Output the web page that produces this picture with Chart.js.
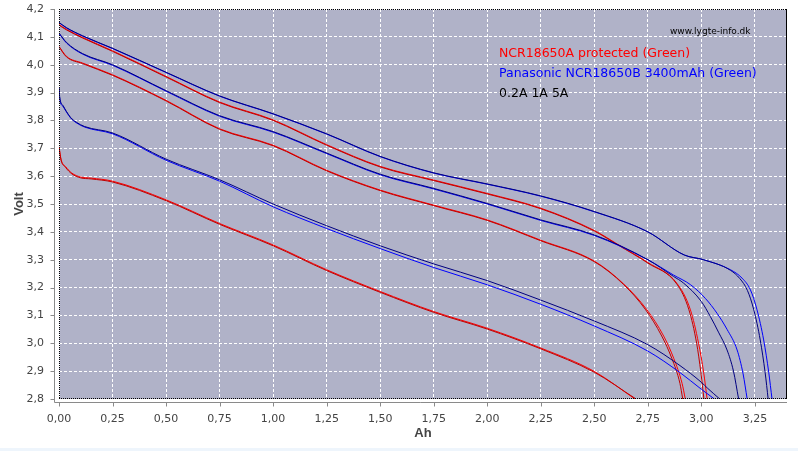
<!DOCTYPE html>
<html>
<head>
<meta charset="utf-8">
<script src="https://cdn.jsdelivr.net/npm/chart.js@4"></script>
<style>
html, body { margin: 0; padding: 0; background: #eef5fc; }
#wrap { width: 798px; height: 448px; background: #fff; }
</style>
</head>
<body>
<div id="wrap"><canvas id="chart" width="798" height="448"></canvas></div>
<script>
// discharge curves, [Ah, Volt]; each current was measured twice
const blue02a = [[0,4.152],[0.035,4.133],[0.11,4.104],[0.25,4.059],[0.5,3.973],[0.75,3.888],[1.0,3.824],[1.25,3.752],[1.5,3.671],[1.75,3.612],[2.0,3.572],[2.25,3.529],[2.5,3.473],[2.75,3.40],[2.92,3.317],[3.01,3.30],[3.136,3.262],[3.18,3.232],[3.215,3.19],[3.245,3.12],[3.275,3.012],[3.298,2.894],[3.312,2.8]];
const blue02b = [[0,4.151],[0.035,4.132],[0.11,4.103],[0.25,4.058],[0.5,3.972],[0.75,3.887],[1.0,3.823],[1.25,3.751],[1.5,3.67],[1.75,3.611],[2.0,3.571],[2.25,3.528],[2.5,3.472],[2.75,3.40],[2.92,3.317],[3.01,3.30],[3.136,3.264],[3.19,3.234],[3.229,3.192],[3.26,3.12],[3.291,3.012],[3.315,2.894],[3.33,2.8]];

const blue1a = [[0,4.114],[0.035,4.08],[0.11,4.04],[0.25,4.0],[0.5,3.907],[0.75,3.817],[1.0,3.76],[1.25,3.683],[1.5,3.607],[1.75,3.556],[2.0,3.502],[2.25,3.443],[2.5,3.389],[2.75,3.30],[2.87,3.24],[2.917,3.216],[3.0,3.15],[3.042,3.096],[3.08,3.04],[3.12,2.976],[3.15,2.9],[3.174,2.8]];
const blue1b = [[0,4.112],[0.035,4.078],[0.11,4.038],[0.25,3.998],[0.5,3.905],[0.75,3.815],[1.0,3.758],[1.25,3.681],[1.5,3.605],[1.75,3.554],[2.0,3.5],[2.25,3.441],[2.5,3.387],[2.75,3.30],[2.87,3.245],[2.95,3.21],[3.02,3.16],[3.073,3.108],[3.12,3.05],[3.167,2.976],[3.195,2.89],[3.214,2.8]];

const blue5a = [[0,3.92],[0.003,3.886],[0.02,3.852],[0.035,3.832],[0.055,3.81],[0.08,3.794],[0.12,3.778],[0.25,3.755],[0.5,3.661],[0.75,3.587],[1.0,3.50],[1.25,3.422],[1.5,3.35],[1.75,3.285],[2.0,3.225],[2.25,3.155],[2.5,3.08],[2.75,2.995],[2.9,2.92],[3.0,2.86],[3.03,2.838],[3.086,2.8]];
const blue5b = [[0,3.915],[0.003,3.88],[0.02,3.849],[0.035,3.83],[0.055,3.808],[0.08,3.792],[0.12,3.776],[0.25,3.752],[0.5,3.657],[0.75,3.582],[1.0,3.49],[1.25,3.412],[1.5,3.34],[1.75,3.272],[2.0,3.21],[2.25,3.14],[2.5,3.062],[2.75,2.972],[2.9,2.895],[3.0,2.835],[3.061,2.8]];

const red02a = [[0,4.144],[0.035,4.127],[0.11,4.098],[0.25,4.05],[0.5,3.958],[0.75,3.866],[1.0,3.802],[1.25,3.713],[1.5,3.635],[1.75,3.586],[2.0,3.538],[2.25,3.485],[2.5,3.405],[2.61,3.355],[2.75,3.29],[2.886,3.215],[2.949,3.12],[2.987,3.0],[3.011,2.894],[3.027,2.8]];
const red02b = [[0,4.142],[0.035,4.125],[0.11,4.096],[0.25,4.048],[0.5,3.956],[0.75,3.864],[1.0,3.8],[1.25,3.711],[1.5,3.633],[1.75,3.584],[2.0,3.536],[2.25,3.483],[2.5,3.403],[2.61,3.353],[2.75,3.288],[2.886,3.212],[2.942,3.12],[2.978,3.0],[2.998,2.894],[3.012,2.8]];

const red1a = [[0,4.066],[0.035,4.03],[0.11,4.006],[0.25,3.964],[0.5,3.872],[0.75,3.77],[1.0,3.711],[1.25,3.621],[1.5,3.55],[1.75,3.496],[2.0,3.443],[2.25,3.37],[2.5,3.295],[2.637,3.213],[2.746,3.12],[2.824,3.026],[2.871,2.946],[2.91,2.856],[2.925,2.8]];
const red1b = [[0,4.064],[0.035,4.028],[0.11,4.004],[0.25,3.962],[0.5,3.87],[0.75,3.768],[1.0,3.709],[1.25,3.619],[1.5,3.548],[1.75,3.494],[2.0,3.441],[2.25,3.368],[2.5,3.293],[2.637,3.211],[2.74,3.12],[2.815,3.026],[2.862,2.946],[2.9,2.856],[2.913,2.8]];

const red5a = [[0,3.706],[0.01,3.659],[0.03,3.635],[0.06,3.611],[0.1,3.597],[0.15,3.593],[0.25,3.582],[0.5,3.515],[0.75,3.43],[1.0,3.353],[1.25,3.264],[1.5,3.186],[1.75,3.114],[2.0,3.054],[2.25,2.983],[2.5,2.899],[2.69,2.8]];
const red5b = [[0,3.703],[0.01,3.656],[0.03,3.632],[0.06,3.608],[0.1,3.594],[0.15,3.59],[0.25,3.579],[0.5,3.512],[0.75,3.427],[1.0,3.35],[1.25,3.261],[1.5,3.183],[1.75,3.111],[2.0,3.051],[2.25,2.98],[2.5,2.896],[2.695,2.8]];

const xTicks = [0, 0.25, 0.5, 0.75, 1, 1.25, 1.5, 1.75, 2, 2.25, 2.5, 2.75, 3, 3.25];
const yTicks = [2.8, 2.9, 3.0, 3.1, 3.2, 3.3, 3.4, 3.5, 3.6, 3.7, 3.8, 3.9, 4.0, 4.1, 4.2];

const noteLines = ['NCR18650A protected (Green)', 'Panasonic NCR18650B 3400mAh (Green)', '0.2A 1A 5A'];
const noteColors = ['#ff0000', '#0000ff', '#000000'];
const siteLabel = 'www.lygte-info.dk';

function makeLine(points, color) {
    return {
        data: points.map(p => ({ x: p[0], y: p[1] })),
        borderColor: color,
        borderWidth: 1,
        pointRadius: 0,
        showLine: true,
        fill: false,
        cubicInterpolationMode: 'monotone'
    };
}

function comma(v, digits) {
    return Number(v).toFixed(digits).replace('.', ',');
}

// plot background, frame, offset axes and the text block
const plotDecor = {
    id: 'plotDecor',
    beforeDraw(chart) {
        const { ctx, chartArea: a } = chart;
        ctx.save();
        ctx.fillStyle = '#b0b2c8';
        ctx.fillRect(a.left, a.top, a.right - a.left, a.bottom - a.top);
        ctx.restore();
    },
    afterDraw(chart) {
        const { ctx, chartArea: a, scales } = chart;
        ctx.save();
        ctx.lineWidth = 1;
        ctx.strokeStyle = '#000';
        ctx.setLineDash([1, 1]);
        ctx.beginPath();
        ctx.moveTo(a.left, a.top + 0.5); ctx.lineTo(a.right, a.top + 0.5);
        ctx.moveTo(a.left + 0.5, a.top); ctx.lineTo(a.left + 0.5, a.bottom);
        ctx.moveTo(a.left, a.bottom - 0.5); ctx.lineTo(a.right, a.bottom - 0.5);
        ctx.stroke();
        ctx.setLineDash([]);
        ctx.beginPath();
        ctx.moveTo(a.right - 0.5, a.top); ctx.lineTo(a.right - 0.5, a.bottom);
        ctx.stroke();

        const ax = a.left - 4.5;
        const ay = a.bottom + 3.5;
        ctx.strokeStyle = '#8a8a8a';
        ctx.beginPath();
        ctx.moveTo(ax, a.top); ctx.lineTo(ax, ay);
        ctx.lineTo(a.right, ay);
        scales.y.ticks.forEach(t => {
            const p = Math.round(scales.y.getPixelForValue(t.value)) + 0.5;
            ctx.moveTo(ax - 4, p); ctx.lineTo(ax, p);
        });
        scales.x.ticks.forEach(t => {
            const p = Math.round(scales.x.getPixelForValue(t.value)) + 0.5;
            ctx.moveTo(p, ay); ctx.lineTo(p, ay + 4);
        });
        ctx.stroke();

        ctx.textAlign = 'left';
        ctx.textBaseline = 'alphabetic';
        ctx.font = '9px "DejaVu Sans"';
        ctx.fillStyle = '#000';
        ctx.fillText(siteLabel, 670, 34);
        ctx.font = '12.5px "DejaVu Sans"';
        noteLines.forEach((txt, i) => {
            ctx.fillStyle = noteColors[i];
            ctx.fillText(txt, 499, 57 + i * 20);
        });
        ctx.restore();
    }
};

window.onload = () => {
    const ctx = document.getElementById('chart').getContext('2d');
    new Chart(ctx, {
        type: 'scatter',
        data: {
            datasets: [
                makeLine(blue02a, '#000080'), makeLine(blue02b, '#0000ff'),
                makeLine(blue1a, '#000080'), makeLine(blue1b, '#0000ff'),
                makeLine(blue5a, '#000080'), makeLine(blue5b, '#0000ff'),
                makeLine(red02b, '#c00000'), makeLine(red02a, '#ff0000'),
                makeLine(red1b, '#c00000'), makeLine(red1a, '#ff0000'),
                makeLine(red5b, '#c00000'), makeLine(red5a, '#ff0000')
            ]
        },
        options: {
            responsive: false,
            animation: false,
            layout: { padding: { top: 9, right: 11, left: 0, bottom: 0 } },
            plugins: {
                legend: { display: false },
                tooltip: { enabled: false }
            },
            scales: {
                x: {
                    type: 'linear',
                    min: 0,
                    max: 3.4,
                    afterBuildTicks: s => { s.ticks = xTicks.map(v => ({ value: v })); },
                    afterFit: s => { s.height = 49; s.paddingLeft = 0; s.paddingRight = 0; },
                    grid: { color: '#ffffff', drawTicks: false, lineWidth: 1 },
                    border: { display: false, dash: [3, 2] },
                    ticks: {
                        padding: 14,
                        color: '#444',
                        font: { family: 'DejaVu Sans', size: 11 },
                        maxRotation: 0,
                        callback: v => comma(v, 2)
                    },
                    title: {
                        display: true,
                        text: 'Ah',
                        color: '#444',
                        font: { family: 'Liberation Sans', size: 13, weight: 'bold' },
                        padding: { top: 0, bottom: 7 }
                    }
                },
                y: {
                    min: 2.8,
                    max: 4.2,
                    afterBuildTicks: s => { s.ticks = yTicks.map(v => ({ value: v })); },
                    afterFit: s => { s.width = 59; s.paddingTop = 0; s.paddingBottom = 0; },
                    grid: { color: '#ffffff', drawTicks: false, lineWidth: 1 },
                    border: { display: false, dash: [3, 2] },
                    ticks: {
                        padding: 15,
                        color: '#444',
                        font: { family: 'DejaVu Sans', size: 11 },
                        callback: v => comma(v, 1)
                    },
                    title: {
                        display: true,
                        text: 'Volt',
                        color: '#444',
                        font: { family: 'Liberation Sans', size: 13, weight: 'bold' },
                        padding: { top: 12, bottom: 0 }
                    }
                }
            }
        },
        plugins: [plotDecor]
    });
};
</script>
</body>
</html>
